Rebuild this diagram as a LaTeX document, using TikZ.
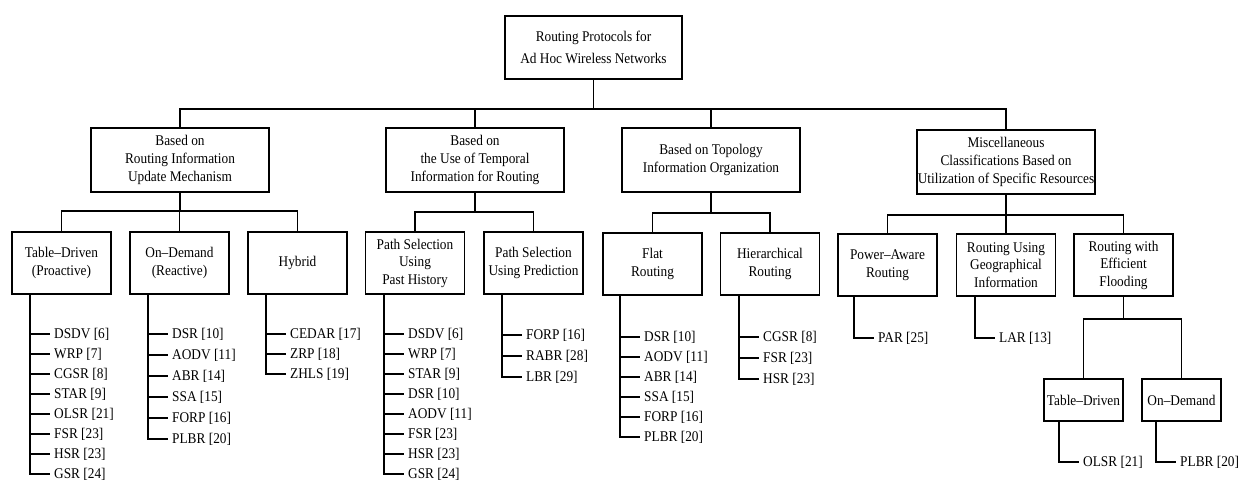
\documentclass[tikz,border=0pt]{standalone}
\usepackage{fontspec}
\setmainfont{Liberation Serif}[FakeStretch=0.9]
\newcommand\leaflist[5]{%
  \coordinate (#1x) at (#2,0);
  \coordinate (#1top) at (#1x |- #1.south);
  \foreach \lbl [count=\i] in {#5} {%
    \node[leaf] (#1-\i) at (#2+20, #3+#4*\i-#4) {\lbl};
    \draw[conn] (#1top) |- (#1-\i.west);
  }}
\begin{document}
\begin{tikzpicture}[x=1pt,y=-1pt,
  every node/.style={font=\fontsize{14.8}{18}\selectfont},
  box/.style={draw, line width=1.7pt, inner sep=0pt, align=center},
  topbox/.style={box, minimum width=177pt, minimum height=63pt, font=\fontsize{14.8}{22}\selectfont},
  lvlone/.style={box, minimum width=178pt, minimum height=64pt},
  lvltwo/.style={box, minimum width=99pt, minimum height=62pt, font=\fontsize{14.8}{17.5}\selectfont},
  lvlthree/.style={box, minimum width=79pt, minimum height=42pt},
  leaf/.style={anchor=west, inner xsep=4pt, inner ysep=0pt},
  conn/.style={line width=1.6pt}]
\useasboundingbox (0,0) rectangle (1239,480);
% root
\node[topbox] (R) at (593.5,47.5) {Routing Protocols for\\Ad Hoc Wireless Networks};
% level one
\node[lvlone] (A) at (180,160) {Based on\\Routing Information\\Update Mechanism};
\node[lvlone] (B) at (475,160) {Based on\\the Use of Temporal\\Information for Routing};
\node[lvlone] (C) at (711,160) {Based on Topology\\Information Organization};
\node[lvlone] (D) at (1006,162) {Miscellaneous\\Classifications Based on\\Utilization of Specific Resources};
\coordinate (Rbus) at (593.5,109);
\draw[conn] (R.south) -- (Rbus);
\draw[conn] (A.north) |- (Rbus) -| (D.north);
\draw[conn] (B.north) -- (B.north |- Rbus);
\draw[conn] (C.north) -- (C.north |- Rbus);
% level two
\node[lvltwo] (TD) at (61.5,263) {Table--Driven\\(Proactive)};
\node[lvltwo] (OD) at (179.5,263) {On--Demand\\(Reactive)};
\node[lvltwo] (HY) at (297.5,263) {Hybrid};
\node[lvltwo] (PH) at (415,263) {Path Selection\\Using\\Past History};
\node[lvltwo] (PP) at (533.5,263) {Path Selection\\Using Prediction};
\node[lvltwo] (FL) at (652.5,264) {Flat\\Routing};
\node[lvltwo] (HI) at (770,264) {Hierarchical\\Routing};
\node[lvltwo] (PA) at (887.5,265) {Power--Aware\\Routing};
\node[lvltwo] (GE) at (1006,265) {Routing Using\\Geographical\\Information};
\node[lvltwo] (EF) at (1123.5,265) {Routing with\\Efficient\\Flooding};
\coordinate (Abus) at (180,211);
\draw[conn] (A.south) -- (Abus);
\draw[conn] (TD.north) |- (Abus) -| (HY.north);
\draw[conn] (OD.north) -- (OD.north |- Abus);
\coordinate (Bbus) at (475,212);
\draw[conn] (B.south) -- (Bbus);
\draw[conn] (PH.north) |- (Bbus) -| (PP.north);
\coordinate (Cbus) at (711,213);
\draw[conn] (C.south) -- (Cbus);
\draw[conn] (FL.north) |- (Cbus) -| (HI.north);
\coordinate (Dbus) at (1006,215);
\draw[conn] (D.south) -- (Dbus);
\draw[conn] (PA.north) |- (Dbus) -| (EF.north);
\draw[conn] (GE.north) -- (GE.north |- Dbus);
% level three
\node[lvlthree] (ET) at (1083.5,400) {Table--Driven};
\node[lvlthree] (EO) at (1181.5,400) {On--Demand};
\coordinate (EFbus) at (1123.5,319);
\draw[conn] (EF.south) -- (EFbus);
\draw[conn] (ET.north) |- (EFbus) -| (EO.north);
% leaves
\leaflist{TD}{30}{334}{20}{{DSDV [6]},{WRP [7]},{CGSR [8]},{STAR [9]},{OLSR [21]},{FSR [23]},{HSR [23]},{GSR [24]}}
\leaflist{OD}{148}{334}{21}{{DSR [10]},{AODV [11]},{ABR [14]},{SSA [15]},{FORP [16]},{PLBR [20]}}
\leaflist{HY}{266}{334}{20}{{CEDAR [17]},{ZRP [18]},{ZHLS [19]}}
\leaflist{PH}{384}{334}{20}{{DSDV [6]},{WRP [7]},{STAR [9]},{DSR [10]},{AODV [11]},{FSR [23]},{HSR [23]},{GSR [24]}}
\leaflist{PP}{502}{335}{21}{{FORP [16]},{RABR [28]},{LBR [29]}}
\leaflist{FL}{620}{337}{20}{{DSR [10]},{AODV [11]},{ABR [14]},{SSA [15]},{FORP [16]},{PLBR [20]}}
\leaflist{HI}{739}{337}{21}{{CGSR [8]},{FSR [23]},{HSR [23]}}
\leaflist{PA}{854}{338}{20}{{PAR [25]}}
\leaflist{GE}{975}{338}{20}{{LAR [13]}}
\leaflist{ET}{1059}{462}{20}{{OLSR [21]}}
\leaflist{EO}{1156}{462}{20}{{PLBR [20]}}
\end{tikzpicture}
\end{document}
